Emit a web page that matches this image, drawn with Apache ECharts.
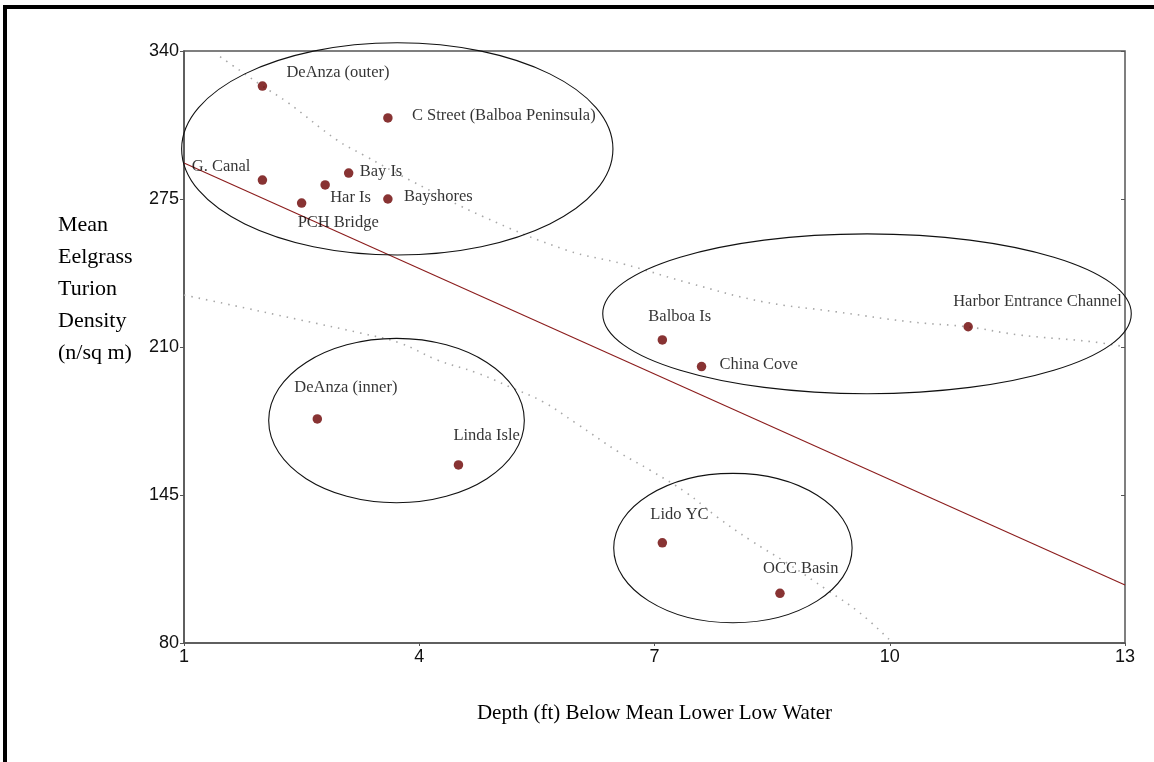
<!DOCTYPE html>
<html>
<head>
<meta charset="utf-8">
<script src="https://cdn.jsdelivr.net/npm/echarts@6/dist/echarts.min.js"></script>
<style>
  html, body { margin: 0; padding: 0; background: #fff; }
  #chart { width: 1154px; height: 762px; }
</style>
</head>
<body>
<div id="chart"></div>
<script>
// ---- Data ----
const siteNames = ['DeAnza (outer)', 'C Street (Balboa Peninsula)', 'G. Canal', 'Bay Is', 'Har Is', 'PCH Bridge', 'Bayshores',
                   'Balboa Is', 'China Cove', 'Harbor Entrance Channel', 'DeAnza (inner)', 'Linda Isle', 'Lido YC', 'OCC Basin'];
const depthFt   = [2.0, 3.6, 2.0, 3.1, 2.8, 2.5, 3.6, 7.1, 7.6, 11.0, 2.7, 4.5, 7.1, 8.6];
const density   = [324.6, 310.6, 283.3, 286.4, 281.2, 273.2, 275.0, 213.1, 201.4, 218.9, 178.4, 158.2, 124.0, 101.8];

// regression line end points
const fitLine = [[1, 290.8], [13, 105.5]];
// dotted band curves
const upperBand = [[1.46, 337.5], [1.61, 333.9], [2.0, 324.6], [2.31, 317.7], [2.95, 300.9], [3.29, 294.3], [3.88, 283.3],
                   [4.82, 267.2], [5.88, 252.5], [6.6, 246.5], [7.45, 238.0], [8.38, 229.9], [9.31, 225.5], [10.25, 221.1],
                   [11.0, 218.8], [11.65, 215.3], [12.58, 212.3], [13.0, 210.1]];
const lowerBand = [[1.0, 232.8], [1.5, 229.2], [2.48, 221.9], [3.24, 216.2], [3.75, 211.8], [4.23, 204.3], [4.74, 198.6],
                   [5.16, 192.4], [5.58, 185.9], [6.0, 176.5], [6.56, 163.5], [6.94, 156.0], [7.41, 145.9], [7.80, 135.3],
                   [8.22, 125.2], [8.69, 115.1], [9.20, 103.3], [9.62, 93.2], [10.0, 81.3]];

// tick settings
const xTicks = { min: 1, max: 13, interval: 3 };
const yTicks = { min: 80, max: 340, interval: 65 };

// group ellipses (data units): center x, center y, radius x, radius y
const groupEllipses = [
  [3.72, 297.0, 2.75, 46.6],
  [9.71, 224.6, 3.37, 35.1],
  [3.71, 177.7, 1.63, 36.1],
  [8.00, 121.7, 1.52, 32.8]
];

// label placement (style): align, dx, dy from dot centre
const labelPlacement = [
  ['left', 24, -13], ['left', 24, -2], ['right', -12, -13], ['left', 11, -1], ['left', 5, 13], ['left', -4, 20],
  ['left', 16, -2], ['left', -14, -23], ['left', 18, -2], ['left', -15, -25], ['left', -23, -31], ['left', -5, -29],
  ['left', -12, -28], ['left', -17, -25]
];

const SERIF = '"Liberation Serif", "Times New Roman", serif';
const SANS = '"Liberation Sans Narrow", "Liberation Sans", Arial, sans-serif';
const DOT = 9.5;

const scatterData = siteNames.map((n, i) => {
  const p = labelPlacement[i];
  return {
    name: n,
    value: [depthFt[i], density[i]],
    label: {
      show: true,
      formatter: n,
      position: [DOT / 2 + p[1], DOT / 2 + p[2]],
      align: p[0],
      verticalAlign: 'middle'
    }
  };
});

const chart = echarts.init(document.getElementById('chart'), null, { renderer: 'canvas' });

const option = {
  backgroundColor: '#ffffff',
  animation: false,
  grid: { left: 184, right: 29, top: 51, bottom: 119, show: true, borderColor: '#555', borderWidth: 1.5, backgroundColor: 'transparent' },
  xAxis: {
    type: 'value', min: xTicks.min, max: xTicks.max, interval: xTicks.interval,
    name: 'Depth (ft) Below Mean Lower Low Water', nameLocation: 'middle', nameGap: 60,
    nameTextStyle: { fontFamily: SERIF, fontSize: 21, color: '#000' },
    axisLine: { show: true, onZero: false, lineStyle: { color: '#555', width: 1.5 } },
    axisTick: { show: true, length: 3, lineStyle: { color: '#555' } },
    axisLabel: { fontFamily: SANS, fontSize: 18, color: '#111', margin: 5 },
    splitLine: { show: false }
  },
  yAxis: [{
    type: 'value', min: yTicks.min, max: yTicks.max, interval: yTicks.interval,
    axisLine: { show: true, onZero: false, lineStyle: { color: '#555', width: 1.5 } },
    axisTick: { show: true, length: 4, lineStyle: { color: '#555' } },
    axisLabel: { fontFamily: SANS, fontSize: 18, color: '#111', margin: 5 },
    splitLine: { show: false }
  }, {
    type: 'value', position: 'right', min: yTicks.min, max: yTicks.max, interval: yTicks.interval,
    axisLine: { show: false },
    axisTick: { show: true, inside: true, length: 4, lineStyle: { color: '#555' } },
    axisLabel: { show: false },
    splitLine: { show: false }
  }],
  series: [
    {
      type: 'line', data: upperBand, smooth: 0.4, symbol: 'none', silent: true,
      lineStyle: { color: '#a8a8a8', width: 1.6, type: [1.5, 6] }, z: 1
    },
    {
      type: 'line', data: lowerBand, smooth: 0.4, symbol: 'none', silent: true,
      lineStyle: { color: '#a8a8a8', width: 1.6, type: [1.5, 6] }, z: 1
    },
    {
      type: 'line', data: fitLine, symbol: 'none', silent: true,
      lineStyle: { color: '#8b1c1c', width: 1.1 }, z: 2
    },
    {
      type: 'scatter', data: scatterData, symbol: 'circle', symbolSize: DOT,
      itemStyle: { color: '#6a0000' },
      label: { fontFamily: SERIF, fontSize: 16.5, color: '#000' },
      z: 3
    }
  ],
  graphic: []
};

chart.setOption(option);

// Draw group ellipses and frame via the chart's own coordinate conversion
function drawExtras() {
  const els = [];
  groupEllipses.forEach((e, i) => {
    const c = chart.convertToPixel({ gridIndex: 0 }, [e[0], e[1]]);
    const r = chart.convertToPixel({ gridIndex: 0 }, [e[0] + e[2], e[1] + e[3]]);
    els.push({
      type: 'ellipse', id: 'ell' + i, silent: true, z: 5,
      shape: { cx: c[0], cy: c[1], rx: Math.abs(r[0] - c[0]), ry: Math.abs(c[1] - r[1]) },
      style: { fill: null, stroke: '#111', lineWidth: 1.1 }
    });
  });
  // outer frame (top and left edges visible)
  els.push({ type: 'rect', id: 'frameTop', silent: true, shape: { x: 3, y: 5, width: 1151, height: 4 }, style: { fill: '#000' } });
  els.push({ type: 'rect', id: 'frameLeft', silent: true, shape: { x: 3, y: 5, width: 4, height: 757 }, style: { fill: '#000' } });
  // y axis title
  els.push({
    type: 'text', id: 'yTitle', silent: true, left: 58, top: 209,
    style: { text: 'Mean\nEelgrass\nTurion\nDensity\n(n/sq m)', font: '22px ' + SERIF, fill: '#000', lineHeight: 32 }
  });
  chart.setOption({ graphic: els });
}
drawExtras();
</script>
</body>
</html>
